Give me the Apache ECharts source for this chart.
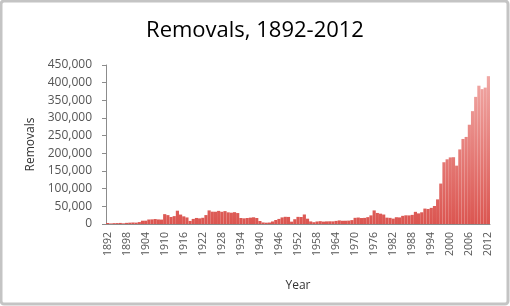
<!DOCTYPE html>
<html><head><meta charset="utf-8">
<script src="https://cdn.jsdelivr.net/npm/echarts@6/dist/echarts.min.js"></script>
<style>html,body{margin:0;padding:0;background:#fff}#c{width:510px;height:306px}</style>
</head><body><div id="c"></div>
<script>
const years = [];
for (let y = 1892; y <= 2012; y++) years.push(String(y));
const removals = [
 2801,1630,2389,2596,3037,1880,3229,3798,4246,3879,
 5439,9316,9414,12724,13108,14059,12971,12535,27912,25137,
 19938,22349,37651,26675,21648,18513,8704,14382,17118,15960,
 17587,25255,38471,34885,34747,37130,34585,36525,33000,32000,
 33500,31000,17000,16000,17000,18000,19000,17000,8500,4400,
 3709,4207,7179,11270,14375,18663,20371,20040,6628,13544,
 20181,19845,26951,15028,7297,5082,7142,7988,6829,7438,
 7637,7454,8746,10143,9168,9260,9590,11030,17469,18294,
 16883,17346,19413,24432,38471,31263,29277,26825,18013,17379,
 15216,19211,18696,23105,24592,24336,25829,34427,30039,33189,
 43671,42542,45674,50924,69680,114432,174813,183114,188467,189026,
 165168,211098,240665,246431,280974,319382,359795,391438,381738,386020,
 418397
];
const yTicks = {min: 0, max: 450000, interval: 50000};
const chart = echarts.init(document.getElementById('c'), null, {renderer: 'canvas'});
const font = '"Open Sans", "Noto Sans", sans-serif';
chart.setOption({
  animation: false,
  backgroundColor: '#fff',
  graphic: [{type: 'rect', shape: {x: 1, y: 1, width: 507, height: 303, r: 3},
    style: {fill: 'none', stroke: '#c4c4c4', lineWidth: 3}, silent: true}],
  title: {text: 'Removals, 1892-2012', left: 'center', top: 15,
    textStyle: {fontFamily: font, fontSize: 22, fontWeight: 500, color: '#000'}},
  grid: {left: 106, right: 20, top: 65, bottom: 82, containLabel: false},
  xAxis: {type: 'category', data: years, boundaryGap: true,
    name: 'Year', nameLocation: 'middle', nameGap: 56,
    nameTextStyle: {fontFamily: font, fontSize: 12, color: '#333'},
    axisLine: {lineStyle: {color: '#8c8c8c', width: 1}},
    axisTick: {show: false},
    axisLabel: {interval: 5, rotate: 90, fontFamily: font, fontSize: 10.5, color: '#555', margin: 8}},
  yAxis: {type: 'value', min: yTicks.min, max: yTicks.max, interval: yTicks.interval,
    name: 'Removals', nameLocation: 'middle', nameGap: 61, nameRotate: 90,
    nameTextStyle: {fontFamily: font, fontSize: 12, color: '#333'},
    axisLine: {show: true, lineStyle: {color: '#8c8c8c', width: 1}},
    axisTick: {show: true, length: 4, lineStyle: {color: '#8c8c8c'}},
    splitLine: {show: false},
    axisLabel: {fontFamily: font, fontSize: 12, color: '#555', margin: 14,
      formatter: v => v.toLocaleString('en-US')}},
  series: [{type: 'bar', data: removals, barCategoryGap: '0%', barGap: '0%',
    itemStyle: {color: new echarts.graphic.LinearGradient(0, 65, 0, 224, [
      {offset: 0, color: '#f2aeab'}, {offset: 1, color: '#db5550'}], true)}}]
});
</script></body></html>
